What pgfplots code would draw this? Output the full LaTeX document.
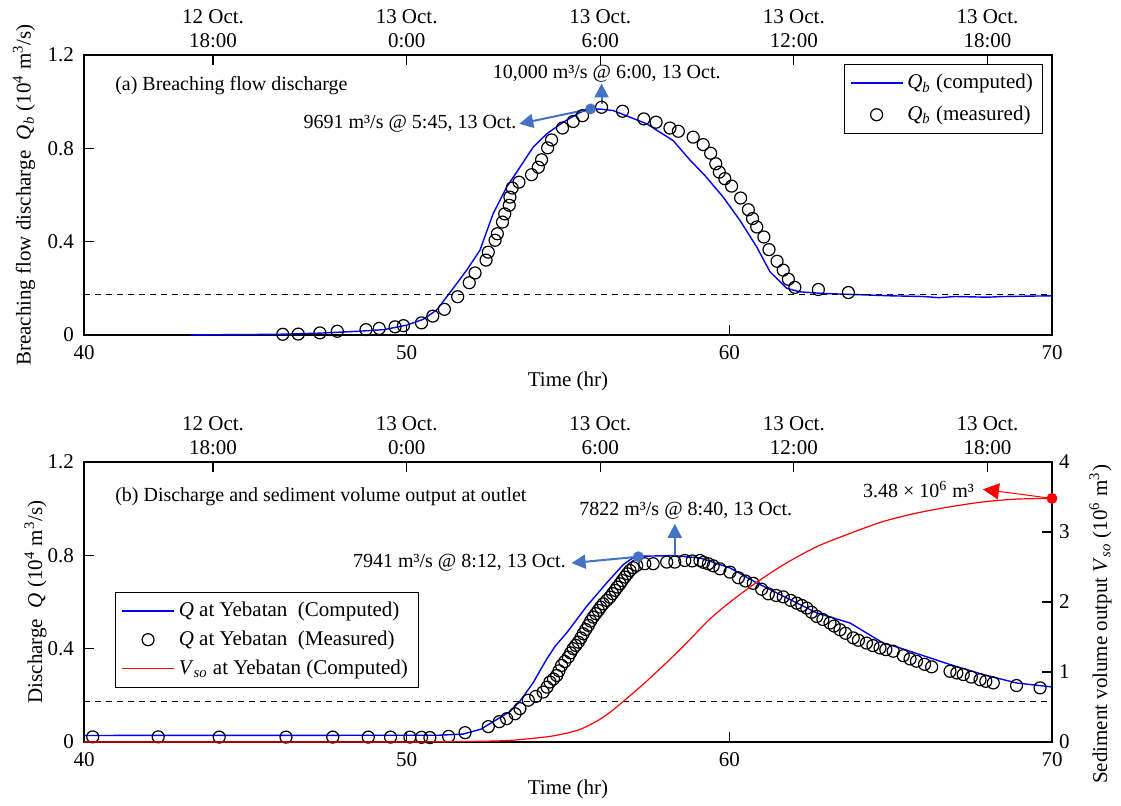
\documentclass[border=0pt]{standalone}
\usepackage{fontspec}
\setmainfont{Liberation Serif}
\usepackage{pgfplots}
\pgfplotsset{compat=1.18}
\usetikzlibrary{arrows.meta}
\definecolor{annot}{RGB}{68,114,196}

\pgfplotstableread{
x y
43.3 0
44.0 0.001
46.0 0.003
47.3 0.008
48.5 0.016
49.3 0.023
50.0 0.042
50.51 0.067
50.93 0.107
51.44 0.200
51.86 0.278
52.27 0.363
52.68 0.520
53.10 0.634
53.51 0.719
53.92 0.805
54.34 0.862
54.85 0.912
55.37 0.954
55.70 0.969
56.00 0.968
56.40 0.962
57.44 0.905
58.26 0.833
58.78 0.750
59.24 0.684
59.81 0.591
60.33 0.491
60.85 0.377
61.26 0.271
61.78 0.200
62.19 0.185
62.91 0.178
64.98 0.168
66.0 0.165
66.5 0.160
67.0 0.165
68.0 0.162
68.5 0.165
70.0 0.168
}\qbcomp

\pgfplotstableread{
x y
46.16 0.003
46.64 0.004
47.31 0.009
47.85 0.016
48.74 0.023
49.15 0.028
49.64 0.035
49.90 0.040
50.46 0.052
50.81 0.081
51.17 0.110
51.58 0.164
51.94 0.224
52.12 0.266
52.46 0.321
52.53 0.355
52.74 0.406
52.81 0.434
52.97 0.484
53.04 0.519
53.18 0.556
53.20 0.591
53.27 0.630
53.48 0.655
53.87 0.687
54.08 0.719
54.18 0.751
54.37 0.802
54.49 0.836
54.83 0.887
55.16 0.915
55.45 0.940
56.04 0.976
56.69 0.959
57.35 0.926
57.73 0.912
58.16 0.887
58.42 0.873
58.88 0.848
59.19 0.816
59.42 0.779
59.58 0.734
59.69 0.698
59.86 0.670
60.07 0.638
60.35 0.587
60.59 0.537
60.72 0.499
60.85 0.463
61.07 0.420
61.23 0.366
61.48 0.316
61.67 0.278
61.83 0.239
62.03 0.204
62.76 0.195
63.69 0.182
}\qbmeas

\pgfplotstableread{
x y
40.0 0.028
51.0 0.029
51.75 0.034
52.30 0.055
52.79 0.096
53.20 0.130
53.51 0.175
53.92 0.254
54.15 0.310
54.34 0.355
54.60 0.410
54.96 0.468
55.58 0.582
56.20 0.682
56.71 0.760
57.00 0.788
57.23 0.796
58.26 0.799
59.09 0.789
60.02 0.746
60.85 0.682
61.57 0.632
62.71 0.553
63.74 0.510
64.77 0.424
65.29 0.403
66.84 0.332
67.87 0.289
68.90 0.253
70.00 0.236
}\qcomp

\pgfplotstableread{
x y
40.27 0.022
42.30 0.022
44.19 0.021
46.26 0.021
47.71 0.021
48.81 0.021
49.50 0.021
50.10 0.021
50.46 0.020
50.72 0.019
51.30 0.024
51.81 0.040
52.53 0.066
52.87 0.087
53.10 0.100
53.36 0.121
53.51 0.143
53.77 0.179
54.00 0.195
54.23 0.214
54.35 0.235
54.44 0.257
54.55 0.270
54.65 0.285
54.72 0.305
54.80 0.328
54.90 0.345
55.01 0.364
55.08 0.382
55.16 0.400
55.24 0.414
55.32 0.428
55.40 0.446
55.47 0.464
55.55 0.482
55.63 0.500
55.70 0.518
55.78 0.535
55.86 0.550
55.94 0.564
56.01 0.578
56.09 0.592
56.20 0.607
56.30 0.621
56.38 0.636
56.46 0.650
56.53 0.664
56.61 0.678
56.68 0.692
56.76 0.707
56.84 0.721
56.92 0.735
57.02 0.747
57.13 0.757
57.38 0.764
57.64 0.764
58.06 0.771
58.31 0.771
58.62 0.778
58.85 0.776
59.09 0.778
59.20 0.770
59.35 0.764
59.50 0.755
59.71 0.742
60.02 0.728
60.28 0.704
60.50 0.690
60.74 0.680
61.00 0.655
61.21 0.635
61.45 0.628
61.67 0.622
61.90 0.607
62.09 0.595
62.25 0.585
62.40 0.574
62.55 0.556
62.71 0.538
62.90 0.525
63.12 0.510
63.25 0.497
63.43 0.481
63.60 0.466
63.84 0.446
64.00 0.436
64.25 0.424
64.45 0.413
64.67 0.403
64.85 0.396
65.08 0.389
65.39 0.370
65.60 0.356
65.80 0.346
66.05 0.333
66.27 0.322
66.84 0.303
67.05 0.296
67.25 0.289
67.50 0.278
67.77 0.267
67.95 0.260
68.18 0.253
68.90 0.242
69.63 0.232
}\qmeas

\pgfplotstableread{
x y
40.0 0
49.0 0
51.0 0.003
52.5 0.012
53.3 0.026
54.34 0.074
54.85 0.115
55.37 0.180
55.90 0.300
56.40 0.460
57.44 0.870
58.47 1.320
59.50 1.800
60.60 2.200
61.67 2.530
62.71 2.790
63.74 2.980
64.77 3.150
65.80 3.270
66.84 3.360
67.87 3.430
68.90 3.470
70.00 3.480
}\vso

\pgfplotsset{
  base/.style={
    scale only axis, width=484pt, height=140pt,
    xmin=40, xmax=70,
    clip=false,
    tick align=inside,
    major tick length=5pt,
    axis line style={line width=0.6pt},
    every tick/.style={line width=0.6pt, black},
    tick label style={font=\fontsize{10.5}{12}\selectfont},
    label style={font=\fontsize{10.5}{12}\selectfont},
    /pgf/number format/assume math mode=true,
  },
  mainax/.style={base, ymin=0, ymax=1.2, ytick={0,0.4,0.8,1.2}, xtick={40,50,60,70},
    xtick pos=left, ytick pos=left,
    yticklabel style={/pgf/number format/fixed, /pgf/number format/precision=1, xshift=-1.5pt},
    xticklabel style={yshift=-1.5pt},
    xlabel={Time (hr)},
    legend image code/.code={\draw[mark repeat=2,mark phase=2,#1] plot coordinates {(0pt,0pt) (13pt,0pt) (26pt,0pt)};},
  },
  dateax/.style={base, ymin=0, ymax=1, axis x line*=top, hide y axis,
    xtick={44,50,56,62,68},
    xticklabels={{12 Oct.\\18:00},{13 Oct.\\0:00},{13 Oct.\\6:00},{13 Oct.\\12:00},{13 Oct.\\18:00}},
    xticklabel style={align=center}},
  measstyle/.style={only marks, mark=o, mark size=3pt, black, mark options={line width=0.6pt}},
}

\begin{document}
\begin{tikzpicture}
\useasboundingbox (0,0) rectangle (560.5pt,402.5pt);

% ---------------- panel (a)
\begin{axis}[dateax, at={(42pt,235pt)}, anchor=south west]
\end{axis}
\begin{axis}[mainax, at={(42pt,235pt)}, anchor=south west,
  xlabel style={at={(axis description cs:0.5,-0.165)}, anchor=center},
  ylabel={Breaching flow discharge\ \ \textit{Q}\textsubscript{\textit{b}} (10\textsuperscript{4} m\textsuperscript{3}/s)},
  ylabel style={at={(axis description cs:-0.062,0.5)}, anchor=center},
  legend style={at={(0.991,0.968)}, anchor=north east,
    font=\fontsize{10.5}{12}\selectfont, row sep=3pt, inner xsep=3pt, inner ysep=3pt,
    legend cell align=left}]
\addplot[blue, line width=0.7pt] table {\qbcomp};
\addlegendentry{\textit{Q}\textsubscript{\textit{b}} (computed)}
\addplot[measstyle] table {\qbmeas};
\addlegendentry{\textit{Q}\textsubscript{\textit{b}} (measured)}
\addplot[black, line width=0.5pt, dash pattern=on 3pt off 2.5pt, forget plot] coordinates {(40,0.172) (70,0.172)};
\addplot[annot, line width=1pt, -{Triangle[length=7pt,width=7pt]}, forget plot] coordinates {(56.04,0.99) (56.04,1.078)};
\addplot[annot, line width=1pt, -{Triangle[length=7pt,width=7pt]}, forget plot] coordinates {(55.70,0.969) (53.49,0.905)};
\addplot[only marks, mark=*, annot, mark size=2.5pt, forget plot] coordinates {(55.70,0.969)};
\node[font=\fontsize{10}{12}\selectfont, anchor=west] at (axis cs:40.75,1.068) {(a) Breaching flow discharge};
\node[font=\fontsize{10}{12}\selectfont, anchor=center] at (axis cs:56.2,1.118) {10,000 m³/s @ 6:00, 13 Oct.};
\node[font=\fontsize{10}{12}\selectfont, anchor=east] at (axis cs:53.62,0.905) {9691 m³/s @ 5:45, 13 Oct.};
\end{axis}

% ---------------- panel (b)
\begin{axis}[dateax, at={(42pt,31.5pt)}, anchor=south west]
\end{axis}
\begin{axis}[mainax, at={(42pt,31.5pt)}, anchor=south west,
  xlabel style={at={(axis description cs:0.5,-0.171)}, anchor=center},
  ylabel={Discharge\ \ \textit{Q} (10\textsuperscript{4} m\textsuperscript{3}/s)},
  ylabel style={at={(axis description cs:-0.050,0.5)}, anchor=center}]
\addplot[blue, line width=0.7pt] table {\qcomp};
\addplot[measstyle] table {\qmeas};
\addplot[black, line width=0.5pt, dash pattern=on 3pt off 2.5pt] coordinates {(40,0.172) (70,0.172)};
\addplot[annot, line width=1pt, -{Triangle[length=7pt,width=7pt]}] coordinates {(58.31,0.798) (58.31,0.935)};
\addplot[annot, line width=1pt, -{Triangle[length=7pt,width=7pt]}] coordinates {(57.18,0.794) (55.11,0.767)};
\addplot[only marks, mark=*, annot, mark size=2.5pt] coordinates {(57.18,0.794)};
\node[font=\fontsize{10}{12}\selectfont, anchor=west] at (axis cs:40.75,1.05) {(b) Discharge and sediment volume output at outlet};
\node[font=\fontsize{10}{12}\selectfont, anchor=center] at (axis cs:58.65,0.99) {7822 m³/s @ 8:40, 13 Oct.};
\node[font=\fontsize{10}{12}\selectfont, anchor=east] at (axis cs:55.15,0.767) {7941 m³/s @ 8:12, 13 Oct.};
\end{axis}
\begin{axis}[base, at={(42pt,31.5pt)}, anchor=south west,
  ymin=0, ymax=4, ytick={0,1,2,3,4}, axis y line*=right, axis x line=none,
  ylabel={Sediment volume output \textit{V}\textsubscript{\textit{so}} (10\textsuperscript{6} m\textsuperscript{3})},
  ylabel style={at={(axis description cs:1.050,0.42)}, anchor=center, rotate=0},
  legend image code/.code={\draw[mark repeat=2,mark phase=2,#1] plot coordinates {(0pt,0pt) (13pt,0pt) (26pt,0pt)};},
  legend style={at={(0.032,0.536)}, anchor=north west,
    font=\fontsize{10.5}{12}\selectfont, row sep=1.5pt, inner xsep=3pt, inner ysep=3pt,
    legend cell align=left}]
\addlegendimage{blue, line width=0.7pt}
\addlegendentry{\textit{Q} at Yebatan\ \ (Computed)}
\addlegendimage{measstyle}
\addlegendentry{\textit{Q} at Yebatan\ \ (Measured)}
\addplot[red, line width=0.6pt, smooth] table {\vso};
\addlegendentry{\textit{V}\textsubscript{\textit{so}} at Yebatan (Computed)}
\addplot[red, line width=0.5pt, -{Triangle[length=8pt,width=8pt]}, forget plot] coordinates {(70,3.48) (67.86,3.61)};
\addplot[only marks, mark=*, red, mark size=2.5pt, forget plot] coordinates {(70,3.48)};
\node[font=\fontsize{10}{12}\selectfont, anchor=east] at (axis cs:67.8,3.61) {3.48 × 10\textsuperscript{6} m³};
\end{axis}
\end{tikzpicture}
\end{document}
